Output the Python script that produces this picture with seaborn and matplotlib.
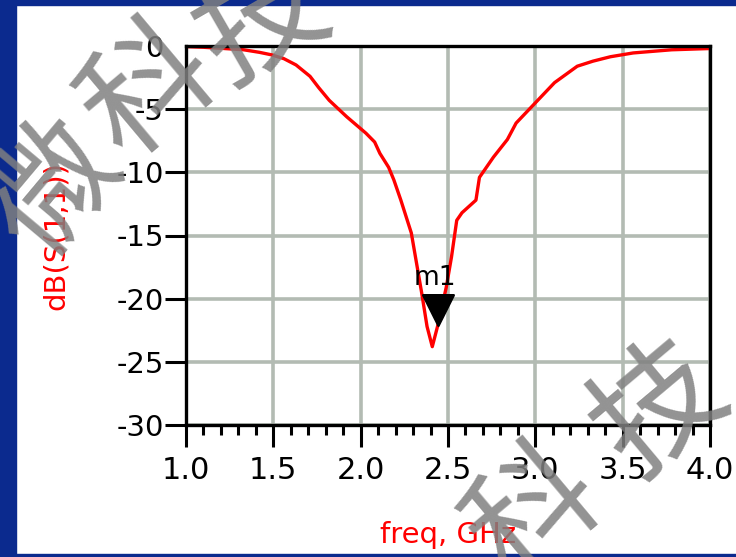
import matplotlib
matplotlib.use("Agg")
import matplotlib.pyplot as plt
import seaborn as sns
import pandas as pd
from matplotlib.patches import Rectangle
from matplotlib.ticker import MultipleLocator

# ---- data ----
freq_ghz = [1.0, 1.1, 1.22, 1.33, 1.42, 1.49, 1.56, 1.63, 1.71, 1.76, 1.82, 1.92,
            2.03, 2.08, 2.11, 2.16, 2.19, 2.23, 2.29, 2.35, 2.38, 2.41, 2.44, 2.49, 2.52,
            2.55, 2.58, 2.62, 2.66, 2.68, 2.76, 2.84, 2.89, 3.0, 3.11, 3.24, 3.33,
            3.43, 3.56, 3.78, 4.0]
s11_db = [-0.05, -0.1, -0.2, -0.3, -0.5, -0.7, -1.0, -1.5, -2.4, -3.3, -4.3, -5.6,
          -6.9, -7.6, -8.5, -9.6, -10.6, -12.2, -14.8, -19.6, -22.2, -23.8, -22.2, -19.1, -16.7,
          -13.8, -13.2, -12.7, -12.2, -10.4, -8.8, -7.4, -6.1, -4.5, -2.9, -1.6, -1.2,
          -0.85, -0.55, -0.3, -0.2]
marker_freq = [2.44]
marker_db = [-20.9]
marker_name = "m1"
x_ticks = [1.0, 1.5, 2.0, 2.5, 3.0, 3.5, 4.0]
y_ticks = [0, -5, -10, -15, -20, -25, -30]
x_label = "freq, GHz"
y_label = "dB(S(1,1))"
watermark_chars = ["微", "科", "技", "科", "技"]

df = pd.DataFrame({"freq": freq_ghz, "s11": s11_db})
mk = pd.DataFrame({"freq": marker_freq, "s11": marker_db})

sns.set_theme(style="white")
plt.rcParams["font.family"] = ["DejaVu Sans"]
plt.rcParams["axes.unicode_minus"] = False

W, H = 736, 557
fig = plt.figure(figsize=(W / 100, H / 100), dpi=100, facecolor="white")
ax = fig.add_axes([186 / W, 1 - 425 / H, (710 - 186) / W, (425 - 46) / H])
ax.set_facecolor("white")

sns.lineplot(data=df, x="freq", y="s11", ax=ax, color="#ff0000", linewidth=2.4,
             zorder=4, legend=False)
sns.scatterplot(data=mk, x="freq", y="s11", ax=ax, marker="v", s=22 ** 2,
                color="black", edgecolor="black", zorder=5, legend=False)
ax.annotate(marker_name, (marker_freq[0], marker_db[0]), xytext=(-2, 14),
            textcoords="offset points", ha="center", va="bottom",
            fontsize=19, color="black", zorder=6)

ax.set_xlim(1.0, 4.0)
ax.set_ylim(-30, 0)
ax.set_xticks(x_ticks)
ax.set_xticklabels([f"{v:.1f}" for v in x_ticks])
ax.set_yticks(y_ticks)
ax.set_yticklabels([str(v) for v in y_ticks])
ax.xaxis.set_minor_locator(MultipleLocator(0.1))

ax.grid(True, which="major", color="#b3bbb3", linewidth=2.6)
ax.set_axisbelow(True)
for s in ax.spines.values():
    s.set_visible(True)
    s.set_color("black")
    s.set_linewidth(2.4)
    s.set_zorder(6)

ax.tick_params(axis="x", which="major", direction="out", length=16, width=2.2,
               color="black", labelsize=22, pad=6, bottom=True, labelcolor="black")
ax.tick_params(axis="x", which="minor", direction="out", length=7, width=2.2,
               color="black", bottom=True)
ax.tick_params(axis="y", which="major", direction="out", length=15, width=2.2,
               color="black", labelsize=21, pad=1, left=True, labelcolor="black")
# the reference shows no tick mark at 0 dB
for t in ax.yaxis.get_major_ticks():
    if abs(t.get_loc()) < 1e-9:
        t.tick1line.set_visible(False)

ax.set_xlabel(x_label, color="#ff0000", fontsize=21)
ax.set_ylabel(y_label, color="#ff0000", fontsize=21)
ax.xaxis.set_label_coords(0.5, (425 - 535) / 379)
ax.xaxis.label.set_va("center")
ax.yaxis.set_label_coords((56 - 186) / 524, 0.5)
ax.yaxis.label.set_va("center")

# blue frame
blue = "#0b2a8e"
fig.patches.append(Rectangle((0, 0), 16 / W, 1, transform=fig.transFigure,
                             color=blue, zorder=10))
fig.patches.append(Rectangle((0, 1 - 5 / H), 1, 5 / H, transform=fig.transFigure,
                             color=blue, zorder=10))
fig.patches.append(Rectangle((0, 0), 1, 3 / H, transform=fig.transFigure,
                             color=blue, zorder=10))

# watermark
wm = [(55, 190, 50), (150, 92, 40), (262, 22, 30), (535, 515, 40), (660, 410, 40)]
for ch, (px, py, rot) in zip(watermark_chars, wm):
    fig.text(px / W, 1 - py / H, ch, fontsize=92, color="#808080", alpha=0.85,
             rotation=rot, rotation_mode="anchor", ha="center", va="center",
             family=["Noto Sans CJK SC", "DejaVu Sans"], zorder=20)

fig.savefig("out.png", dpi=100, facecolor="white")
